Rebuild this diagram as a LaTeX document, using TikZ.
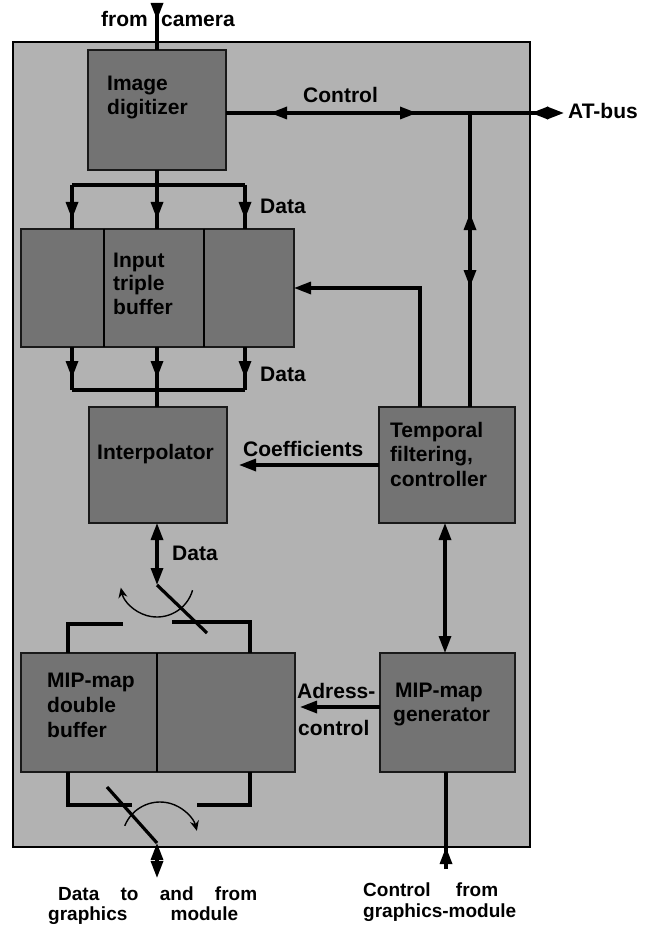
\documentclass[tikz,border=0pt]{standalone}
\usepackage{fontspec}
\setmainfont{Liberation Sans}
\usetikzlibrary{arrows.meta,decorations.markings,calc}
\definecolor{bggray}{gray}{0.70}
\definecolor{boxgray}{gray}{0.45}
\begin{document}
\begin{tikzpicture}[x=1pt,y=-1pt,
  >={Triangle[length=17pt 0 0,width=12pt 0 0]},
  txt/.style={font=\bfseries\fontsize{21}{24}\selectfont, inner sep=0pt, anchor=base west},
  smalltxt/.style={font=\bfseries\fontsize{19}{22}\selectfont, inner sep=0pt, anchor=base west},
  blk/.style 2 args={draw=black!90, line width=2pt, fill=boxgray, anchor=north west, inner sep=0pt, outer sep=0pt, minimum width=#1, minimum height=#2},
  conn/.style={line width=3.2pt},
  thinarc/.style={line width=1.4pt, -{Stealth[length=10pt 0 0,width=9pt 0 0]}},
  mk/.style={postaction={decorate,decoration={markings,mark=at position #1 with {\arrow{>}}}}},
  mkr/.style={postaction={decorate,decoration={markings,mark=at position #1 with {\arrowreversed{>}}}}}
]
\useasboundingbox (0,0) rectangle (648,925);

% outer board
\node[draw=black, line width=1.8pt, fill=bggray, anchor=north west, inner sep=0pt, outer sep=0pt,
      minimum width=517pt, minimum height=805pt] (board) at (13,42) {};

% blocks
\node[blk={138pt}{120pt}] (dig) at (88,50) {};
\node[blk={273pt}{118pt}] (buf) at (21,229) {};
\node[blk={138pt}{116pt}] (interp) at (89,407) {};
\node[blk={136pt}{116pt}] (temp) at (379,407) {};
\node[blk={274pt}{119pt}] (mbuf) at (21,653) {};
\node[blk={135pt}{119pt}] (gen) at (380,653) {};

% dividers
\draw[line width=2pt] ([xshift=83pt]buf.north west) -- ([xshift=83pt]buf.south west);
\draw[line width=2pt] ([xshift=183pt]buf.north west) -- ([xshift=183pt]buf.south west);
\draw[line width=2pt] ([xshift=136pt]mbuf.north west) -- ([xshift=136pt]mbuf.south west);

% block texts
\node[txt] (digt1) at (107,91) {Image};
\node[txt] (digt2) at (107,115) {digitizer};
\node[txt] (buft1) at (113,267) {Input};
\node[txt] (buft2) at (113,290) {triple};
\node[txt] (buft3) at (113,314) {buffer};
\node[txt] (intt) at (97,459) {Interpolator};
\node[txt] (tempt1) at (390,437) {Temporal};
\node[txt] (tempt2) at (390,461) {filtering,};
\node[txt] (tempt3) at (390,486) {controller};
\node[txt] (mbuft1) at (47,687) {MIP-map};
\node[txt] (mbuft2) at (47,712) {double};
\node[txt] (mbuft3) at (47,737) {buffer};
\node[txt] (gent1) at (395,697) {MIP-map};
\node[txt] (gent2) at (393,721) {generator};

% camera input
\coordinate (camtop) at (157,6);
\draw[conn, mk=14pt] (camtop) -- (dig.north);
\node[txt, anchor=base east] (fromt) at (148,27) {from};
\node[txt] (camt) at (161,27) {camera};

% control bus
\coordinate (atend) at (564,113);
\coordinate (cj) at (470,113);
\draw[conn, mkr=44pt, mk=191pt, mkr=305pt, ->] (dig.east |- atend) -- (atend);
\node[txt] (ctrlt) at (303,103) {Control};
\node[txt] (att) at (568,119) {AT-bus};
\draw[conn, mk=194pt, mkr=120pt] (temp.north -| cj) -- (cj);

% data bus digitizer -> buffer
\coordinate (b1m) at (157,185);
\coordinate (b1l) at (72,185);
\coordinate (b1r) at (245,185);
\draw[conn] (dig.south) -- (b1m);
\draw[conn] (b1l) -- (b1r);
\draw[conn, mk=34pt] (b1l) -- (b1l |- buf.north);
\draw[conn, mk=34pt] (b1m) -- (b1m |- buf.north);
\draw[conn, mk=34pt] (b1r) -- (b1r |- buf.north);
\node[txt] (data1) at (260,214) {Data};

% data bus buffer -> interpolator
\coordinate (b2m) at (157,390);
\coordinate (b2l) at (72,390);
\coordinate (b2r) at (245,390);
\draw[conn, mk=31pt] (b2l |- buf.south) -- (b2l);
\draw[conn, mk=31pt] (b2m |- buf.south) -- (b2m);
\draw[conn, mk=31pt] (b2r |- buf.south) -- (b2r);
\draw[conn] (b2l) -- (b2r);
\draw[conn] (b2m) -- (interp.north -| b2m);
\node[txt] (data2) at (260,381) {Data};

% feedback temporal -> buffer
\coordinate (fb) at (420,288);
\draw[conn, ->] (temp.north -| fb) -- (fb) -- (buf.east |- fb);

% coefficients
\coordinate (coef) at (300,465);
\draw[conn, ->, shorten >=12pt] (temp.west |- coef) -- (interp.east |- coef);
\node[txt] (coeft) at (243,456) {Coefficients};

% temporal <-> generator
\coordinate (tg) at (445,600);
\draw[conn, <->] (temp.south -| tg) -- (gen.north -| tg);

% adress control
\coordinate (adr) at (340,707);
\draw[conn, ->, shorten >=5pt] (gen.west |- adr) -- (mbuf.east |- adr);
\node[txt] (adrt1) at (297,698) {Adress-};
\node[txt] (adrt2) at (298,735) {control};

% upper switch
\coordinate (piv1) at (157,585);
\coordinate (bl1) at (207,633);
\coordinate (arc1c) at (157,580);
\draw[conn, <->] (interp.south -| piv1) -- (piv1);
\node[txt] (data3) at (172,560) {Data};
\draw[conn] (piv1) -- (bl1);
\draw[thinarc] ($(arc1c)+(16:37)$) arc[start angle=16, end angle=168, radius=37];
\coordinate (c1a) at (68,624);
\coordinate (c1b) at (123,624);
\coordinate (c1c) at (172,622);
\coordinate (c1d) at (250,622);
\draw[conn] (mbuf.north -| c1a) -- (c1a) -- (c1b);
\draw[conn] (c1c) -- (c1d) -- (mbuf.north -| c1d);

% lower switch
\coordinate (piv2) at (157,843);
\coordinate (bl2) at (107,787);
\coordinate (arc2c) at (160,840);
\coordinate (dout) at (157,878);
\draw[conn] (bl2) -- (piv2);
\draw[conn, <->] (piv2) -- (dout);
\draw[thinarc] ($(arc2c)+(202:38)$) arc[start angle=202, end angle=346, radius=38];
\coordinate (c2a) at (68,805);
\coordinate (c2b) at (132,805);
\coordinate (c2c) at (197,805);
\coordinate (c2d) at (250,805);
\draw[conn] (mbuf.south -| c2a) -- (c2a) -- (c2b);
\draw[conn] (c2c) -- (c2d) -- (mbuf.south -| c2d);

% control from graphics module
\coordinate (cfb) at (446,869);
\draw[conn, mk=22pt] (cfb) -- (gen.south -| cfb);

% bottom texts
\node[smalltxt] (bt1) at (58,900) {\makebox[199pt][s]{Data to and from}};
\node[smalltxt] (bt2) at (48,920) {\makebox[190pt][s]{graphics module}};
\node[smalltxt] (bt3) at (363,896) {\makebox[135pt][s]{Control from}};
\node[smalltxt] (bt4) at (363,917) {\makebox[169pt][s]{graphics-module}};
\end{tikzpicture}
\end{document}
